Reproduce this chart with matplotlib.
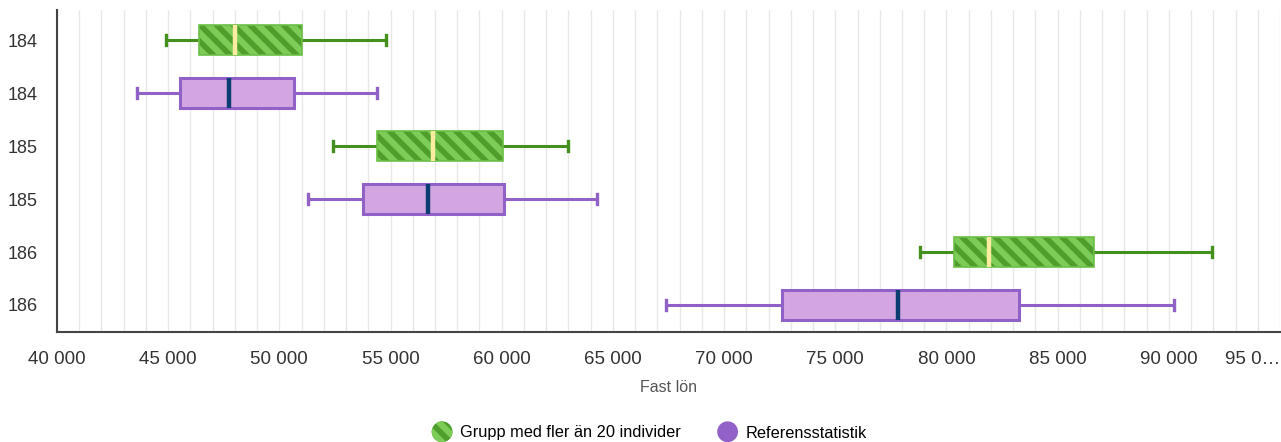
import matplotlib
matplotlib.use("Agg")
import matplotlib.pyplot as plt
from matplotlib.patches import Circle, Patch
from matplotlib.legend_handler import HandlerPatch
from matplotlib.ticker import MultipleLocator, FixedLocator

# data
labels = ["184", "184", "185", "185", "186", "186"]
series = ["grupp", "ref", "grupp", "ref", "grupp", "ref"]
low = [44900, 43600, 52400, 51300, 78800, 67400]
q1 = [46400, 45550, 54400, 53750, 80350, 72600]
med = [48000, 47750, 56900, 56700, 81900, 77800]
q3 = [51000, 50650, 60050, 60100, 86650, 83250]
high = [54800, 54400, 63000, 64300, 91950, 90250]
xticks = [40000, 45000, 50000, 55000, 60000, 65000, 70000, 75000, 80000, 85000, 90000, 95000]

green_fill = "#4f9e2c"
green_stripe = "#7ccc57"
green_line = "#43901f"
green_median = "#fbeca0"
purple_fill = "#d3a6e1"
purple_line = "#9061c6"
purple_median = "#0b3d73"

plt.rcParams["font.family"] = ["Liberation Sans", "DejaVu Sans"]
plt.rcParams["hatch.linewidth"] = 4.5

fig = plt.figure(figsize=(12.81, 4.42), dpi=100)
ax = fig.add_axes([57 / 1281, 1 - 332 / 442, 1223 / 1281, 322 / 442])

for i in range(len(labels)):
    st = [{"whislo": low[i], "q1": q1[i], "med": med[i], "q3": q3[i],
           "whishi": high[i], "fliers": []}]
    if series[i] == "grupp":
        lc, mc = green_line, green_median
    else:
        lc, mc = purple_line, purple_median
    art = ax.bxp(st, positions=[i], widths=0.56, capwidths=0.2, vert=False,
                 patch_artist=True, showfliers=False,
                 whiskerprops=dict(color=lc, lw=2.2),
                 capprops=dict(color=lc, lw=2.4),
                 medianprops=dict(color=mc, lw=3.2, solid_capstyle="butt"),
                 boxprops=dict(lw=2.2))
    box = art["boxes"][0]
    box.set_zorder(3)
    art["medians"][0].set_zorder(5)
    if series[i] == "grupp":
        box.set_facecolor(green_fill)
        box.set_edgecolor(green_stripe)
        box.set_hatch("\\\\")
        box.set_linewidth(0)
        # thin border over the hatch
        ax.bxp(st, positions=[i], widths=0.56, vert=False, patch_artist=True,
               showfliers=False, showcaps=False,
               whiskerprops=dict(lw=0), medianprops=dict(lw=0),
               boxprops=dict(facecolor="none", edgecolor="#6cbf45", lw=1.2),
               zorder=4)
    else:
        box.set_facecolor(purple_fill)
        box.set_edgecolor(purple_line)

ax.set_xlim(40000, 95000)
ax.set_ylim(5.51, -0.57)
ax.set_yticks(range(len(labels)))
ax.set_yticklabels(labels)
ax.xaxis.set_major_locator(FixedLocator(xticks))
ax.set_xticklabels(["{:,}".format(v).replace(",", " ") for v in xticks[:-1]] + ["95 0…"])
ax.get_xticklabels()[-1].set_horizontalalignment("right")
ax.xaxis.set_minor_locator(MultipleLocator(1000))
ax.grid(True, axis="x", which="both", color="#e8e8e8", lw=1)
ax.set_axisbelow(True)
ax.tick_params(axis="both", which="both", length=0)
ax.tick_params(axis="x", labelsize=13.5, colors="#333333", pad=14)
ax.tick_params(axis="y", labelsize=13, colors="#333333", pad=14)
for s in ["top", "right"]:
    ax.spines[s].set_visible(False)
for s in ["left", "bottom"]:
    ax.spines[s].set_color("#444444")
    ax.spines[s].set_linewidth(1.5)

ax.set_xlabel("Fast lön", fontsize=11.5, color="#555555", labelpad=8)


class HandlerCircle(HandlerPatch):
    def create_artists(self, legend, orig_handle, xdescent, ydescent,
                       width, height, fontsize, trans):
        c = Circle((width / 2 - xdescent, height / 2 - ydescent), 7.5)
        self.update_prop(c, orig_handle, legend)
        c.set_transform(trans)
        return [c]


h1 = Patch(facecolor=green_fill, edgecolor=green_stripe, hatch="\\\\", lw=0)
h2 = Patch(facecolor="#9262c8", edgecolor="#9262c8", lw=0)
fig.legend([h1, h2], ["Grupp med fler än 20 individer", "Referensstatistik"],
           loc="center", bbox_to_anchor=(650 / 1281, 1 - 433 / 442), ncol=2,
           frameon=False, fontsize=11.8, handlelength=1.1, handletextpad=0.55,
           columnspacing=2.3,
           handler_map={Patch: HandlerCircle()})

fig.savefig("out.png", dpi=100)
